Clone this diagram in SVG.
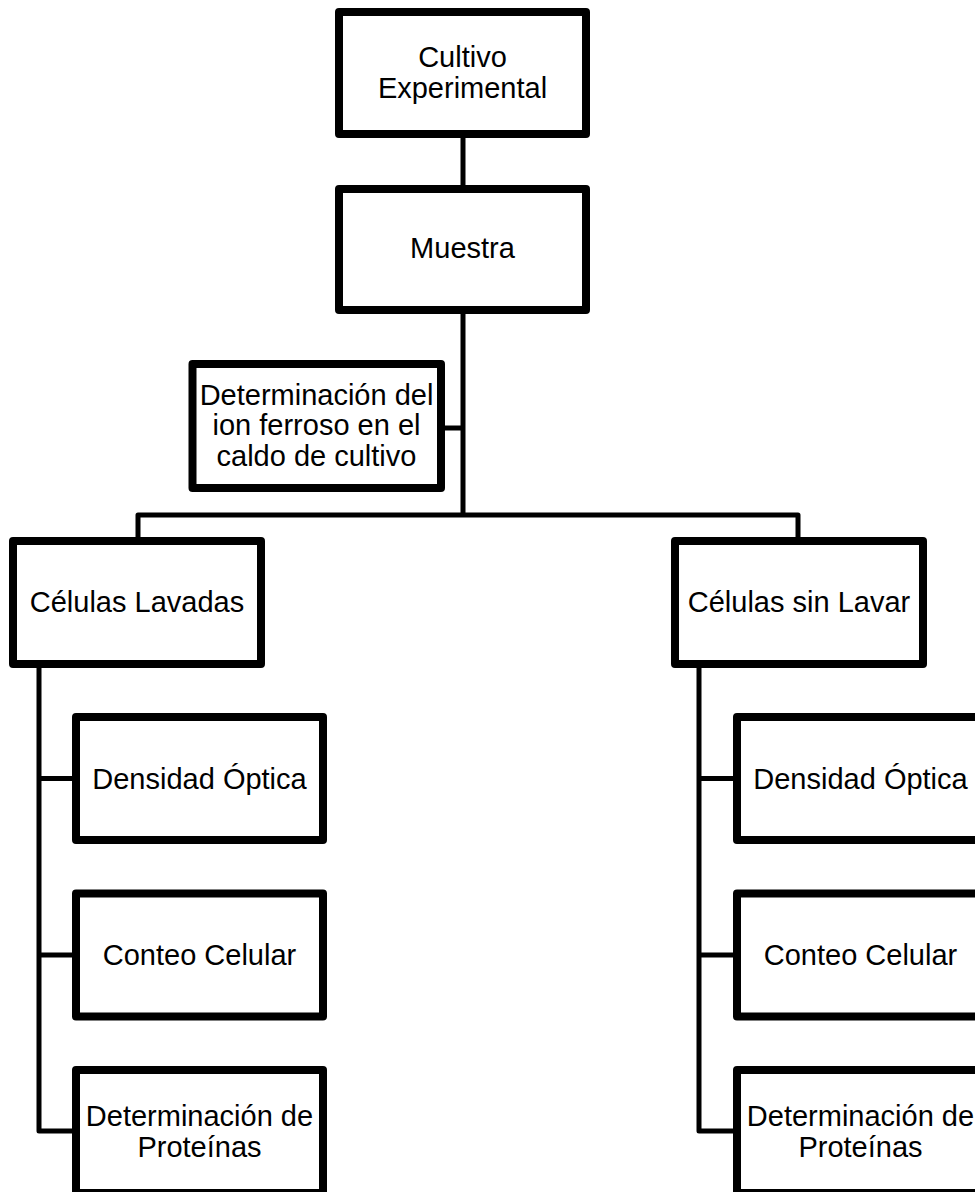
<svg xmlns="http://www.w3.org/2000/svg" width="975" height="1192" viewBox="0 0 975 1192">
<style>
.box{fill:#fff;stroke:#000;stroke-width:8;stroke-linejoin:round}
.con{fill:none;stroke:#000;stroke-width:5;stroke-linejoin:round}
text{font-family:"Liberation Sans",Arial,sans-serif;font-size:29px;fill:#000;text-anchor:middle}
</style>
<rect width="975" height="1192" fill="#fff"/>
<g id="connectors">
<path class="con" d="M463 134V189"/>
<path class="con" d="M463 310V515"/>
<path class="con" d="M441 428H463"/>
<path class="con" d="M138 541V515H798V541"/>
<path class="con" d="M39 664V1131H76"/>
<path class="con" d="M39 778.5H76M39 955H76"/>
<path class="con" d="M699 664V1131H737"/>
<path class="con" d="M699 778.5H737M699 955H737"/>
</g>
<g id="cultivo">
<rect class="box" x="339" y="12" width="247" height="122"/>
<text x="462.5" y="67">Cultivo</text>
<text x="462.5" y="98">Experimental</text>
</g>
<g id="muestra">
<rect class="box" x="339" y="189" width="247" height="121"/>
<text x="462.5" y="258">Muestra</text>
</g>
<g id="ion-ferroso">
<rect class="box" x="192.5" y="364" width="248.5" height="124"/>
<text x="316.5" y="404.5">Determinación del</text>
<text x="316.5" y="435">ion ferroso en el</text>
<text x="316.5" y="465.5">caldo de cultivo</text>
</g>
<g id="celulas-lavadas">
<rect class="box" x="13" y="541" width="248" height="123"/>
<text x="137" y="612">Células Lavadas</text>
</g>
<g id="celulas-sin-lavar">
<rect class="box" x="675" y="541" width="248" height="123"/>
<text x="799" y="612">Células sin Lavar</text>
</g>
<g id="densidad-l">
<rect class="box" x="76" y="717" width="247" height="123"/>
<text x="199.5" y="788.5">Densidad Óptica</text>
</g>
<g id="conteo-l">
<rect class="box" x="76" y="893.5" width="247" height="123"/>
<text x="199.5" y="965">Conteo Celular</text>
</g>
<g id="proteinas-l">
<rect class="box" x="76" y="1070" width="247" height="123"/>
<text x="199.5" y="1126">Determinación de</text>
<text x="199.5" y="1157">Proteínas</text>
</g>
<g id="densidad-r">
<rect class="box" x="737" y="717" width="247" height="123"/>
<text x="860.5" y="788.5">Densidad Óptica</text>
</g>
<g id="conteo-r">
<rect class="box" x="737" y="893.5" width="247" height="123"/>
<text x="860.5" y="965">Conteo Celular</text>
</g>
<g id="proteinas-r">
<rect class="box" x="737" y="1070" width="247" height="123"/>
<text x="860.5" y="1126">Determinación de</text>
<text x="860.5" y="1157">Proteínas</text>
</g>
</svg>
